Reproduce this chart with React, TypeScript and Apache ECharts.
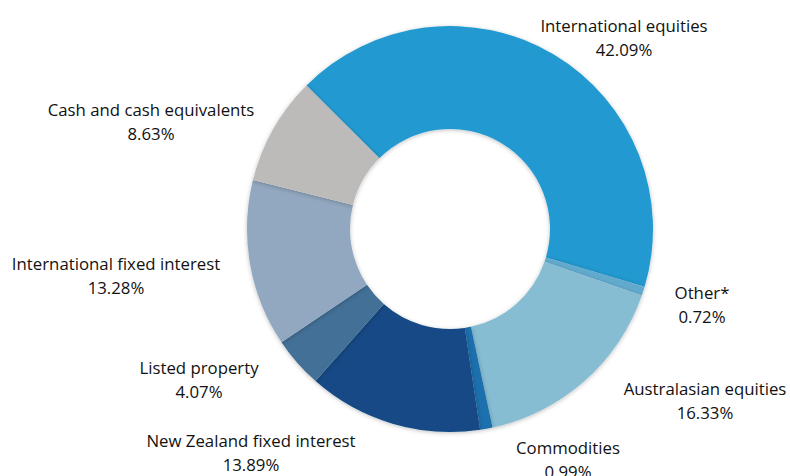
import React, { useEffect, useRef } from "react";
import * as echarts from "echarts";

const categories = [
  "International equities",
  "Other*",
  "Australasian equities",
  "Commodities",
  "New Zealand fixed interest",
  "Listed property",
  "International fixed interest",
  "Cash and cash equivalents",
];
const values = [42.09, 0.72, 16.33, 0.99, 13.89, 4.07, 13.28, 8.63];

const COLORS = ["#2399D0", "#62AACD", "#86BDD3", "#1A6FAE", "#124A85", "#436F96", "#92A8C0", "#BDBBBA"];
// label block centres (layout only)
const LABEL_X = [624, 702, 705, 568, 251, 199, 116, 151];
const LABEL_Y = [37, 304, 400, 459, 452, 379, 275, 121];

export default function App() {
  const ref = useRef<HTMLDivElement>(null);
  useEffect(() => {
    const chart = echarts.init(ref.current!, undefined, { renderer: "svg" });
    chart.setOption({
      animation: false,
      backgroundColor: "#ffffff",
      series: [
        {
          type: "pie",
          center: [450, 229],
          radius: [100, 203],
          startAngle: 135,
          clockwise: true,
          avoidLabelOverlap: false,
          data: categories.map((c, i) => ({
            name: c,
            value: values[i],
            itemStyle: { color: COLORS[i] },
          })),
          itemStyle: {
            borderWidth: 0,
            shadowBlur: 4,
            shadowColor: "rgba(0,0,0,0.25)",
            shadowOffsetX: 0,
            shadowOffsetY: 1,
          },
          label: {
            show: true,
            position: "outside",
            formatter: (p: any) => `${p.name}\n${values[p.dataIndex].toFixed(2)}%`,
            fontFamily: "'Open Sans', sans-serif",
            fontSize: 16.8,
            lineHeight: 24,
            color: "#111111",
            align: "center",
          },
          labelLine: { show: false },
          labelLayout: (p: any) => ({
            x: LABEL_X[p.dataIndex],
            y: LABEL_Y[p.dataIndex],
            align: "center",
            verticalAlign: "middle",
          }),
          emphasis: { disabled: true },
        },
      ],
    });
    return () => chart.dispose();
  }, []);
  return (
    <div
      ref={ref}
      style={{ position: "fixed", left: 0, top: 0, width: 790, height: 476 }}
    />
  );
}
